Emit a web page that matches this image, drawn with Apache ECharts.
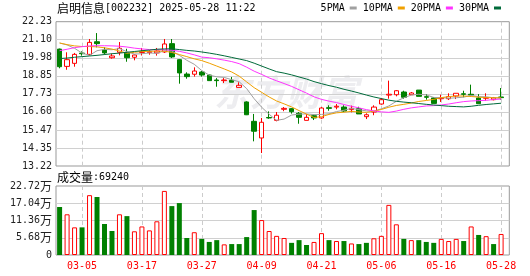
<!DOCTYPE html>
<html><head><meta charset="utf-8">
<script src="https://cdn.jsdelivr.net/npm/echarts@6/dist/echarts.min.js"></script>
<style>html,body{margin:0;padding:0;background:#fff}#c{width:530px;height:276px}</style>
</head><body><div id="c"></div>
<script>
const dates = ['02-28','03-03','03-04','03-05','03-06','03-07','03-10','03-11','03-12','03-13','03-14','03-17','03-18','03-19','03-20','03-21','03-24','03-25','03-26','03-27','03-28','03-31','04-01','04-02','04-03','04-07','04-08','04-09','04-10','04-11','04-14','04-15','04-16','04-17','04-18','04-21','04-22','04-23','04-24','04-25','04-28','04-29','04-30','05-06','05-07','05-08','05-09','05-12','05-13','05-14','05-15','05-16','05-19','05-20','05-21','05-22','05-23','05-26','05-27','05-28'];
const open  = [20.52,19.44,19.63,20.27,20.19,20.98,20.46,19.98,20.32,20.26,20.01,20.31,20.30,20.28,20.34,20.86,19.86,18.96,18.95,19.09,18.90,18.59,18.55,18.57,18.13,17.22,16.01,14.97,16.25,16.07,16.76,16.80,16.51,16.07,16.36,16.22,16.86,16.90,16.90,16.74,16.80,16.30,16.59,17.09,17.65,17.67,17.84,17.67,17.96,17.55,17.47,17.42,17.42,17.59,17.73,17.70,17.47,17.45,17.36,17.53];
const close = [19.42,19.86,20.19,20.23,20.94,20.86,20.28,20.09,20.57,19.98,20.15,20.36,20.36,20.40,20.84,20.03,19.03,18.80,19.15,18.90,18.55,18.55,18.59,18.45,18.26,16.42,15.39,15.95,16.22,16.39,16.82,16.61,16.26,16.26,16.22,16.84,16.82,16.95,16.65,16.82,16.47,16.42,16.90,17.36,17.70,17.92,17.51,17.78,17.57,17.51,17.13,17.47,17.55,17.76,17.70,17.65,17.11,17.49,17.47,17.49];
const low   = [19.32,19.23,19.42,20.11,20.13,20.63,20.17,19.92,20.13,19.73,19.82,20.12,20.17,20.11,20.28,19.96,18.36,18.67,18.80,18.80,18.55,18.17,18.40,18.45,18.13,16.40,14.76,14.03,16.17,16.01,16.64,16.49,15.86,16.07,16.09,16.17,16.67,16.76,16.59,16.57,16.47,16.15,16.39,17.05,17.42,17.57,17.42,17.67,17.57,17.36,17.13,17.22,17.34,17.40,17.51,17.57,17.11,17.30,17.32,17.36];
const high  = [20.55,20.32,20.28,20.38,21.15,21.52,20.63,20.23,20.96,20.54,20.18,20.59,20.44,20.59,21.15,21.15,19.88,19.07,19.38,19.15,18.92,18.71,18.71,18.78,18.45,17.26,16.47,16.22,16.63,16.59,16.90,16.84,16.59,16.47,16.42,16.90,17.01,17.09,17.01,16.99,16.92,16.51,17.01,17.47,18.55,17.96,17.92,17.84,17.96,17.71,17.53,17.67,17.76,17.76,17.92,18.30,17.71,17.76,17.53,18.09];
const ma5  = [20.90,20.78,20.57,20.27,20.13,20.42,20.50,20.48,20.55,20.36,20.21,20.23,20.28,20.25,20.42,20.40,20.13,19.82,19.57,19.18,18.89,18.79,18.75,18.61,18.48,18.05,17.42,16.89,16.45,16.07,16.15,16.40,16.46,16.47,16.43,16.44,16.48,16.62,16.70,16.82,16.74,16.66,16.65,16.79,16.97,17.26,17.48,17.65,17.70,17.66,17.50,17.49,17.45,17.48,17.52,17.63,17.55,17.54,17.48,17.44];
const ma10 = [20.90,20.80,20.72,20.68,20.68,20.66,20.60,20.52,20.40,20.26,20.32,20.37,20.38,20.40,20.39,20.31,20.18,20.05,19.91,19.80,19.64,19.46,19.28,19.09,18.83,18.47,18.11,17.82,17.53,17.28,17.10,16.91,16.68,16.46,16.25,16.30,16.44,16.54,16.58,16.63,16.59,16.57,16.64,16.75,16.89,17.00,17.07,17.15,17.25,17.31,17.38,17.49,17.55,17.59,17.59,17.56,17.52,17.49,17.48,17.48];
const ma20 = [20.42,20.51,20.61,20.67,20.72,20.73,20.73,20.72,20.70,20.65,20.58,20.53,20.49,20.48,20.48,20.45,20.38,20.28,20.16,20.02,19.98,19.91,19.83,19.74,19.61,19.39,19.14,18.94,18.72,18.54,18.37,18.19,17.98,17.77,17.54,17.38,17.27,17.18,17.06,16.95,16.85,16.74,16.66,16.60,16.57,16.65,16.76,16.85,16.91,16.97,16.99,17.03,17.09,17.17,17.24,17.28,17.30,17.32,17.37,17.40];
const ma30 = [19.93,19.96,20.01,20.05,20.09,20.13,20.18,20.23,20.27,20.32,20.37,20.42,20.46,20.51,20.53,20.54,20.49,20.44,20.40,20.34,20.27,20.19,20.10,20.00,19.90,19.80,19.64,19.46,19.28,19.11,19.02,18.91,18.78,18.65,18.49,18.36,18.24,18.14,18.01,17.90,17.78,17.65,17.53,17.43,17.33,17.26,17.21,17.17,17.12,17.07,17.03,16.99,16.95,16.93,16.91,16.95,17.01,17.06,17.10,17.14];
const volume = [158000,134000,91000,91000,197000,191000,102000,79000,134000,128000,78000,94000,81000,111000,211000,161000,171000,56000,75000,53000,43000,49000,35000,36000,36000,59000,148000,115000,79000,63000,56000,40000,49000,33000,43000,72000,49000,46000,46000,38000,36000,40000,55000,63000,165000,101000,53000,49000,49000,43000,40000,53000,46000,53000,46000,94000,66000,62000,36000,69240];
const volUp = [0,1,1,0,1,0,0,0,1,0,1,1,1,1,1,0,0,0,1,0,0,0,1,0,0,0,0,1,1,1,1,0,0,0,1,1,0,1,0,1,0,0,1,1,1,1,0,1,0,0,0,1,1,1,0,1,0,1,0,1];
const priceTicks = ['13.22','14.35','15.47','16.60','17.73','18.85','19.98','21.10','22.23'];
const volTicks = ['0','5.68','11.36','17.04','22.72'];
const maNames = ['5PMA','10PMA','20PMA','30PMA'];

const MONO = '"DejaVu Sans Mono", monospace';
const CJK = '"Noto Sans CJK SC", sans-serif';
const RED = '#ff0000', GREEN = '#008000';
const maColors = ['#a0a0a0','#f0a000','#ff33ff','#006a3a'];
const every8 = (i) => i % 8 === 3;

const chart = echarts.init(document.getElementById('c'), null, {renderer:'canvas'});
const maData = [ma5, ma10, ma20, ma30];
const option = {
  animation: false,
  backgroundColor: '#fff',
  legend: {
    data: maNames, right: 29, top: 3, align: 'right', icon: 'rect',
    itemWidth: 7, itemHeight: 3, itemGap: 6, padding: 0,
    textStyle: {fontFamily: MONO, fontSize: 10, color: '#000'}
  },
  grid: [
    {left: 56, top: 21.7, width: 453.3, height: 144.3, show: true, borderColor: '#999', borderWidth: 1, backgroundColor: 'transparent'},
    {left: 59.6, top: 21.7, width: 441.5, height: 144.3},
    {left: 56, top: 186, width: 453.3, height: 69, show: true, borderColor: '#999', borderWidth: 1, backgroundColor: 'transparent'},
    {left: 59.6, top: 186, width: 441.5, height: 69}
  ],
  xAxis: [
    {gridIndex: 0, type: 'value', min: 0, max: 1, show: false},
    {gridIndex: 1, type: 'category', data: dates, boundaryGap: false,
     axisLine: {show: false}, axisTick: {show: false}, axisLabel: {show: false},
     splitLine: {show: true, interval: every8, lineStyle: {color: '#cccccc', type: [4, 3]}}},
    {gridIndex: 2, type: 'value', min: 0, max: 1, show: false},
    {gridIndex: 3, type: 'category', data: dates, boundaryGap: false,
     axisLine: {show: false}, axisTick: {show: false},
     axisLabel: {interval: every8, color: RED, fontFamily: MONO, fontSize: 10, margin: 6},
     splitLine: {show: true, interval: every8, lineStyle: {color: '#cccccc', type: [4, 3]}}}
  ],
  yAxis: [
    {gridIndex: 0, type: 'value', min: 0, max: 8, interval: 1,
     axisLine: {show: false}, axisTick: {show: false},
     axisLabel: {formatter: (v) => priceTicks[v], fontFamily: MONO, fontSize: 10, color: '#222', margin: 4},
     splitLine: {show: true, showMinLine: false, showMaxLine: false, lineStyle: {color: '#d0d0d0'}}},
    {gridIndex: 1, type: 'value', min: 13.22, max: 22.23, show: false, splitLine: {show: false}},
    {gridIndex: 2, type: 'value', min: 0, max: 4, interval: 1,
     axisLine: {show: false}, axisTick: {show: false},
     axisLabel: {formatter: (v) => v === 0 ? '{n|0}' : '{n|' + volTicks[v] + '}{w|万}', margin: 4,
       rich: {n: {fontFamily: MONO, fontSize: 10, color: '#222'}, w: {fontFamily: CJK, fontSize: 12, color: '#222'}}},
     splitLine: {show: true, showMinLine: false, showMaxLine: false, lineStyle: {color: '#d0d0d0'}}},
    {gridIndex: 3, type: 'value', min: 0, max: 227200, show: false, splitLine: {show: false}}
  ],
  graphic: [
    {type: 'text', left: 57, top: 2, z: 10, style: {
      text: '{c|启明信息}{a|[002232] 2025-05-28 11:22}',
      rich: {c: {fontFamily: CJK, fontSize: 12, fill: '#000'}, a: {fontFamily: MONO, fontSize: 10, fill: '#000'}}}},
    {type: 'text', left: 57, top: 171, z: 10, style: {
      text: '{c|成交量}{a|:69240}',
      rich: {c: {fontFamily: CJK, fontSize: 12, fill: '#000'}, a: {fontFamily: MONO, fontSize: 10, fill: '#000'}}}},
    {type: 'text', left: 214, top: 74, z: 0, silent: true, style: {
      text: '东方财富', font: 'italic bold 36px "Noto Sans CJK SC"', fill: '#ededf0'}}
  ],
  series: [
    {type: 'candlestick', name: 'K', xAxisIndex: 1, yAxisIndex: 1, barWidth: 5, clip: false,
     data: open.map((o, i) => [o, close[i], low[i], high[i]]),
     itemStyle: {color: '#ffffff', color0: GREEN, borderColor: RED, borderColor0: GREEN, borderWidth: 1}},
    ...maNames.map((n, k) => ({
      type: 'line', name: n, xAxisIndex: 1, yAxisIndex: 1, data: maData[k],
      symbol: 'none', showSymbol: false, color: maColors[k], clip: false,
      lineStyle: {width: 1, color: maColors[k]}, z: 3
    })),
    {type: 'bar', name: 'VOL', xAxisIndex: 3, yAxisIndex: 3, barWidth: 5, clip: false,
     data: volume.map((v, i) => ({value: v, itemStyle: volUp[i] ? {color: '#ffffff', borderColor: RED, borderWidth: 1} : {color: GREEN}}))}
  ]
};
chart.setOption(option);
</script></body></html>
